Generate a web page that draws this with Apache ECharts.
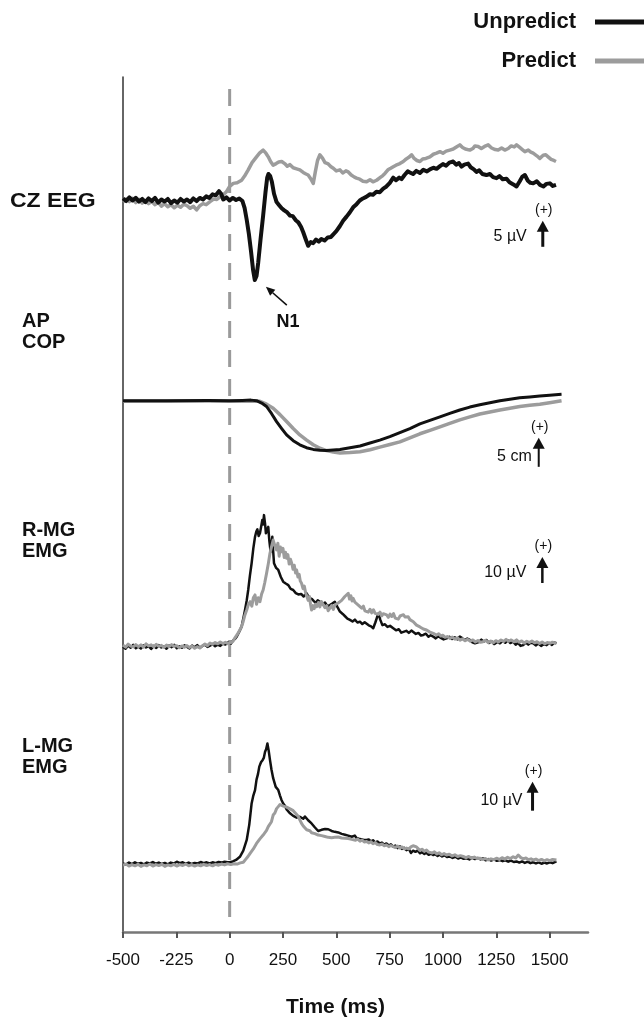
<!DOCTYPE html>
<html>
<head>
<meta charset="UTF-8">
<title>Unpredict vs Predict</title>
<script src="https://cdn.jsdelivr.net/npm/echarts@6/dist/echarts.min.js"></script>
<style>html,body{margin:0;background:#fff}</style>
</head>
<body>
<div id="main" style="width:644px;height:1019px;"></div>
<script>
var FONT = '"Liberation Sans", Arial, Helvetica, sans-serif';
var BLACK = '#111';
var GRAY = '#9c9c9c';

// time axis ticks (the original figure labels -250 as "-225")
var tickValues = [-500, -250, 0, 250, 500, 750, 1000, 1250, 1500];
var tickLabels = ['-500', '-225', '0', '250', '500', '750', '1000', '1250', '1500'];

// CZ EEG, [ms, uV]
var eegUnpredict = [[-500,0.3],[-485,-0.2],[-470,0.5],[-455,-0.1],[-440,0.4],[-425,-0.3],[-410,0.2],[-395,-0.4],[-380,0.3],[-365,-0.2],[-350,0.4],[-335,-0.5],[-320,0.1],[-305,-0.3],[-290,0.2],[-275,-0.6],[-260,-0.1],[-245,-0.5],[-230,0.2],[-215,-0.3],[-200,0.1],[-185,-0.4],[-170,0.3],[-155,-0.2],[-140,0.4],[-125,0.1],[-110,0.7],[-95,0.4],[-80,1.1],[-65,0.9],[-50,1.7],[-40,1.2],[-30,0.1],[-15,0.5],[0,-0.1],[15,0.4],[30,0.0],[45,0.3],[60,-0.2],[70,-1.5],[80,-3.8],[90,-6.5],[100,-9.8],[110,-13.5],[118,-15.4],[126,-14.6],[134,-12.0],[145,-7.5],[157,-3.0],[168,1.5],[176,4.3],[182,5.0],[190,4.6],[198,3.5],[208,1.2],[220,-0.4],[232,-1.0],[244,-1.6],[256,-2.0],[270,-2.4],[283,-3.0],[296,-3.1],[310,-3.9],[322,-4.3],[335,-5.2],[345,-6.2],[357,-7.6],[368,-8.8],[380,-8.1],[392,-8.3],[405,-7.6],[418,-8.0],[430,-7.5],[445,-7.8],[460,-7.2],[475,-7.1],[486,-6.6],[500,-6.0],[517,-5.0],[532,-4.0],[548,-3.2],[563,-2.4],[579,-1.4],[595,-0.8],[610,-0.1],[625,0.3],[640,0.6],[658,1.1],[672,1.0],[688,1.6],[704,1.5],[720,2.2],[735,2.6],[751,3.3],[767,4.3],[780,3.8],[795,4.3],[806,4.0],[820,4.8],[835,5.5],[845,5.3],[860,5.0],[875,5.6],[892,5.2],[908,5.8],[925,5.5],[939,5.9],[955,6.2],[970,6.0],[986,6.5],[1000,6.9],[1015,6.6],[1030,7.2],[1048,7.4],[1062,6.8],[1075,7.1],[1087,6.4],[1100,6.8],[1118,7.0],[1130,6.3],[1145,5.9],[1157,5.4],[1170,5.7],[1185,5.0],[1204,4.8],[1220,5.0],[1235,4.4],[1251,4.2],[1265,4.6],[1280,4.0],[1298,4.1],[1312,3.4],[1330,3.0],[1345,2.6],[1360,3.6],[1372,4.5],[1384,4.8],[1398,3.7],[1410,3.3],[1423,3.2],[1440,3.6],[1455,2.9],[1471,2.6],[1485,3.1],[1501,3.2],[1515,2.7],[1530,2.9]];
var eegPredict = [[-500,-0.4],[-485,0.2],[-470,-0.3],[-455,0.3],[-440,-0.5],[-425,0.1],[-410,-0.6],[-395,-0.2],[-380,-0.7],[-365,-0.3],[-350,-0.9],[-335,-0.4],[-320,-1.2],[-305,-0.7],[-290,-1.3],[-275,-0.9],[-260,-1.5],[-245,-1.0],[-230,-1.4],[-215,-0.8],[-200,-1.1],[-185,-1.6],[-170,-1.2],[-155,-1.9],[-140,-1.1],[-125,-0.7],[-110,-0.9],[-92,-0.3],[-75,0.2],[-60,0.1],[-45,0.6],[-30,1.0],[-15,1.6],[0,2.6],[17,3.2],[35,3.3],[56,3.8],[70,4.6],[87,5.8],[105,7.2],[126,8.3],[140,9.0],[157,9.6],[170,9.0],[181,8.3],[192,7.4],[204,6.7],[218,7.0],[230,7.3],[244,7.4],[258,7.0],[270,6.5],[283,6.8],[298,6.2],[314,6.0],[329,5.8],[345,5.3],[358,5.0],[368,4.8],[380,4.1],[392,3.2],[402,5.5],[412,7.6],[423,8.7],[436,8.0],[447,7.2],[460,7.0],[475,6.4],[486,6.1],[500,5.6],[517,5.8],[530,5.2],[545,5.6],[556,5.4],[570,4.8],[585,4.4],[595,4.2],[610,4.0],[625,3.6],[642,3.5],[658,3.9],[672,3.5],[689,3.8],[705,4.3],[718,4.7],[728,5.1],[742,5.8],[755,6.1],[767,6.4],[780,6.7],[798,7.0],[814,7.4],[828,7.9],[840,8.2],[853,8.7],[865,8.0],[878,7.6],[892,7.4],[905,7.9],[920,8.0],[939,8.3],[955,8.8],[970,9.0],[986,9.3],[1000,9.0],[1015,9.4],[1032,9.6],[1048,9.8],[1063,10.2],[1079,10.6],[1092,10.1],[1105,9.8],[1126,9.6],[1140,9.9],[1150,10.4],[1165,10.3],[1180,9.9],[1195,10.3],[1212,10.6],[1228,10.0],[1245,9.7],[1259,9.6],[1275,10.0],[1290,9.6],[1306,9.9],[1320,10.4],[1334,10.2],[1345,10.6],[1360,10.1],[1372,9.7],[1384,9.3],[1400,9.6],[1412,9.2],[1423,9.0],[1440,8.5],[1454,8.0],[1470,8.6],[1482,8.7],[1493,8.3],[1507,7.8],[1520,7.6],[1530,7.4]];

// AP COP, [ms, cm]
var copUnpredict = [[-500,0],[-300,0],[-100,0.05],[0,0],[60,0.05],[100,0.1],[126,0],[150,-0.4],[173,-1.0],[196,-2.2],[220,-3.6],[244,-4.8],[267,-5.9],[298,-6.9],[329,-7.6],[360,-8.1],[392,-8.4],[423,-8.55],[454,-8.6],[486,-8.5],[517,-8.4],[564,-8.1],[611,-7.8],[658,-7.3],[704,-6.8],[751,-6.2],[798,-5.5],[845,-4.8],[892,-4.0],[939,-3.4],[986,-2.8],[1032,-2.2],[1079,-1.6],[1126,-1.1],[1173,-0.7],[1220,-0.35],[1267,0],[1314,0.25],[1360,0.5],[1407,0.65],[1454,0.8],[1500,0.95],[1556,1.1]];
var copPredict = [[-500,-0.1],[-300,-0.1],[-100,-0.05],[0,-0.1],[100,-0.05],[142,-0.1],[173,-0.6],[204,-1.3],[236,-2.4],[267,-3.6],[298,-4.8],[329,-5.9],[361,-6.8],[392,-7.6],[423,-8.2],[454,-8.6],[486,-8.85],[517,-9.0],[564,-8.95],[611,-8.8],[658,-8.45],[704,-8.0],[751,-7.55],[798,-7.1],[845,-6.4],[892,-5.7],[939,-5.1],[986,-4.5],[1032,-3.9],[1079,-3.3],[1126,-2.8],[1173,-2.3],[1220,-1.95],[1267,-1.6],[1314,-1.3],[1360,-1.0],[1407,-0.8],[1454,-0.6],[1500,-0.35],[1556,0]];

// R-MG EMG, [ms, uV]
var rmgUnpredict = [[-500,3.2],[-488,2.4],[-476,3.6],[-464,2.8],[-452,3.9],[-440,2.6],[-428,3.3],[-416,2.5],[-404,3.7],[-392,2.9],[-380,3.4],[-368,2.3],[-356,3.5],[-344,2.7],[-332,3.8],[-320,2.9],[-308,3.3],[-296,2.4],[-284,3.6],[-272,3.0],[-260,3.9],[-248,2.6],[-236,3.4],[-224,2.8],[-212,3.7],[-200,3.1],[-188,2.5],[-176,3.6],[-164,3.0],[-152,3.8],[-140,2.8],[-128,3.5],[-116,4.0],[-104,3.1],[-92,3.6],[-80,4.2],[-68,3.4],[-56,4.0],[-44,3.5],[-32,4.4],[-20,4.0],[-8,4.8],[5,4.3],[15,5.5],[25,6.2],[33,7.0],[45,9.0],[56,10.9],[64,14.0],[72,17.3],[80,21.0],[87,25.0],[95,30.5],[103,35.3],[111,41.0],[119,45.5],[125,47.5],[130,48.3],[136,45.8],[142,46.8],[148,49.5],[153,51.9],[157,50.2],[161,53.8],[166,50.5],[170,46.8],[176,48.0],[181,49.3],[186,44.0],[192,39.7],[197,43.5],[200,45.5],[204,40.0],[208,35.3],[218,33.5],[228,32.7],[240,30.0],[251,28.2],[263,27.5],[275,26.9],[286,25.4],[298,25.0],[310,23.8],[322,23.3],[335,23.5],[347,22.5],[361,23.7],[372,22.0],[385,21.6],[392,21.2],[403,20.0],[413,21.0],[423,20.5],[435,19.5],[447,20.2],[458,18.8],[470,19.2],[481,19.8],[493,20.5],[505,18.5],[517,16.7],[530,15.8],[541,14.9],[552,14.0],[564,13.5],[576,12.9],[587,13.6],[599,12.5],[611,12.8],[622,11.9],[633,12.6],[642,12.2],[652,11.4],[663,11.0],[673,10.3],[683,12.5],[692,14.8],[698,16.0],[706,13.6],[716,11.5],[728,11.8],[740,10.8],[752,11.2],[767,10.3],[780,9.5],[793,9.9],[805,8.6],[814,8.3],[828,9.3],[840,8.5],[852,9.4],[861,9.0],[873,8.1],[885,8.5],[897,7.5],[908,7.7],[920,8.2],[932,7.0],[943,7.6],[954,7.1],[966,6.4],[978,7.2],[990,6.6],[1003,6.0],[1017,6.4],[1030,7.0],[1043,6.2],[1055,6.8],[1067,6.0],[1079,7.1],[1090,6.5],[1102,5.7],[1114,6.3],[1126,5.8],[1138,4.9],[1150,4.5],[1157,3.8],[1168,5.0],[1180,5.9],[1192,5.2],[1204,5.8],[1216,4.6],[1228,5.3],[1240,4.2],[1255,5.0],[1267,4.5],[1280,5.4],[1292,4.7],[1304,5.6],[1316,4.6],[1329,5.1],[1341,4.0],[1352,4.6],[1364,3.5],[1376,3.8],[1388,4.8],[1400,4.0],[1411,4.7],[1423,4.5],[1435,3.7],[1447,4.4],[1460,3.5],[1473,4.2],[1486,3.8],[1499,4.6],[1511,3.9],[1522,4.8],[1532,4.5]];
var rmgPredict = [[-500,3.8],[-488,3.0],[-476,4.2],[-464,3.4],[-452,3.1],[-440,4.0],[-428,3.2],[-416,3.9],[-404,3.0],[-392,4.3],[-380,3.5],[-368,3.9],[-356,3.1],[-344,4.1],[-332,3.3],[-320,3.7],[-308,2.9],[-296,3.8],[-284,3.2],[-272,4.0],[-260,3.3],[-248,3.6],[-236,2.8],[-224,3.5],[-212,3.0],[-200,3.6],[-188,2.9],[-176,3.4],[-164,2.6],[-152,3.2],[-140,2.7],[-128,3.5],[-116,4.2],[-104,3.6],[-92,4.6],[-80,4.1],[-68,4.8],[-56,4.3],[-44,5.0],[-32,4.4],[-20,4.9],[-8,4.3],[5,4.8],[15,5.2],[23,6.4],[35,7.8],[47,9.5],[56,10.9],[64,13.0],[72,15.5],[80,17.3],[88,19.5],[96,20.5],[104,18.8],[111,22.0],[119,23.1],[126,19.5],[134,22.0],[142,20.5],[150,23.5],[157,25.0],[165,28.0],[173,31.4],[181,35.0],[189,39.1],[196,41.5],[204,44.2],[212,42.0],[220,40.4],[226,43.0],[232,38.0],[238,41.5],[244,39.7],[250,41.0],[256,37.5],[262,39.5],[267,37.2],[273,38.6],[279,35.0],[285,36.8],[291,35.3],[297,33.0],[303,34.5],[309,31.5],[314,32.7],[320,30.0],[326,31.0],[331,28.5],[337,27.6],[344,25.5],[350,26.5],[356,24.0],[361,23.7],[368,21.0],[374,22.5],[379,19.5],[384,17.3],[390,19.0],[396,17.8],[402,19.5],[408,18.6],[416,20.2],[423,18.5],[430,20.6],[439,19.9],[447,18.2],[455,19.0],[462,17.0],[470,17.3],[478,19.0],[486,17.5],[494,19.3],[501,18.6],[509,20.0],[517,19.4],[525,21.0],[533,21.2],[540,22.5],[548,23.0],[556,23.7],[562,21.5],[568,22.8],[574,20.8],[579,21.8],[587,20.3],[595,21.0],[603,19.2],[611,19.2],[619,18.0],[627,18.8],[634,17.0],[642,17.3],[650,16.5],[658,17.6],[666,16.2],[674,17.4],[682,16.0],[689,16.7],[697,15.6],[705,16.5],[713,15.0],[720,15.9],[728,16.0],[736,15.4],[744,14.5],[752,15.7],[760,14.8],[768,15.9],[776,14.2],[783,14.7],[791,13.8],[799,15.0],[807,14.3],[815,15.5],[822,14.6],[830,15.2],[837,14.7],[845,13.6],[853,14.2],[861,12.8],[868,13.2],[876,11.5],[884,12.0],[892,10.8],[900,11.3],[908,10.0],[915,10.5],[923,9.6],[931,9.9],[939,8.8],[947,9.2],[955,8.3],[962,8.6],[970,7.7],[980,8.2],[990,7.3],[1000,7.6],[1010,6.8],[1020,7.1],[1032,6.4],[1044,6.9],[1056,6.1],[1068,6.6],[1080,5.7],[1092,6.2],[1104,5.5],[1116,6.0],[1128,5.3],[1140,5.8],[1152,5.0],[1164,5.6],[1176,4.9],[1188,5.1],[1200,5.6],[1212,4.8],[1224,5.4],[1236,4.7],[1248,5.5],[1260,5.0],[1272,5.8],[1284,5.2],[1296,6.0],[1308,5.3],[1320,5.8],[1333,5.1],[1345,5.8],[1357,4.9],[1369,5.4],[1381,4.6],[1393,5.3],[1405,4.8],[1417,5.4],[1429,4.7],[1441,5.1],[1453,4.4],[1465,5.0],[1477,4.3],[1489,4.8],[1501,4.5],[1513,4.9],[1522,4.2],[1532,4.5]];

// L-MG EMG, [ms, uV]
var lmgUnpredict = [[-500,2.6],[-486,2.2],[-472,2.9],[-458,2.4],[-444,3.0],[-430,2.5],[-416,2.8],[-402,2.3],[-388,2.9],[-374,2.6],[-360,3.1],[-346,2.5],[-332,2.9],[-318,2.4],[-304,2.8],[-290,2.3],[-276,2.9],[-262,2.6],[-248,3.2],[-234,2.7],[-220,3.0],[-206,2.5],[-192,2.9],[-178,2.4],[-164,2.8],[-150,2.6],[-136,3.1],[-122,2.7],[-108,3.0],[-94,2.6],[-80,3.0],[-66,2.7],[-52,3.1],[-38,2.9],[-24,3.2],[-10,3.0],[1,3.0],[15,3.3],[30,3.8],[48,4.9],[64,7.0],[80,10.7],[92,16.0],[103,23.3],[111,26.0],[119,27.9],[126,31.5],[133,33.5],[139,36.0],[147,37.5],[155,38.3],[160,39.0],[166,41.1],[171,42.0],[177,44.0],[183,41.5],[189,38.3],[196,35.0],[204,32.0],[210,31.5],[216,29.0],[222,28.5],[228,27.9],[236,26.0],[243,24.5],[251,23.3],[259,22.5],[267,21.2],[275,20.6],[283,19.9],[290,20.3],[298,19.0],[306,19.3],[314,18.4],[322,18.9],[329,18.7],[337,19.0],[345,18.0],[353,18.8],[361,18.7],[368,17.5],[376,17.0],[384,16.4],[392,15.8],[400,15.0],[408,14.5],[415,13.8],[423,13.6],[431,14.2],[439,14.8],[447,14.5],[454,15.0],[462,14.4],[470,14.7],[478,13.8],[486,14.3],[493,13.5],[501,13.9],[509,13.3],[517,13.6],[525,12.8],[533,13.3],[541,12.5],[548,12.9],[556,12.2],[564,12.6],[572,11.8],[579,11.8],[587,12.2],[595,11.4],[603,11.9],[611,11.0],[619,11.5],[627,10.8],[634,11.2],[642,10.7],[652,10.9],[662,10.2],[672,10.6],[683,9.8],[693,10.2],[704,9.5],[714,9.8],[725,9.1],[735,9.5],[746,8.8],[756,9.2],[767,8.4],[777,8.8],[788,7.9],[798,8.5],[808,7.6],[819,8.0],[829,7.2],[840,7.6],[850,6.2],[860,7.0],[871,6.6],[881,7.1],[892,6.1],[902,6.5],[913,5.9],[923,6.3],[933,5.6],[944,6.0],[954,5.5],[964,5.8],[975,5.2],[985,5.6],[996,5.0],[1007,5.4],[1019,4.8],[1032,5.0],[1045,4.5],[1058,4.9],[1071,4.3],[1084,4.7],[1097,4.2],[1111,4.4],[1124,4.0],[1137,4.6],[1150,4.1],[1163,4.5],[1176,4.0],[1188,4.4],[1200,3.7],[1213,4.1],[1226,3.6],[1240,4.0],[1253,3.5],[1267,3.8],[1280,3.4],[1293,3.7],[1306,3.2],[1319,3.6],[1332,3.1],[1345,3.3],[1358,2.9],[1371,3.3],[1384,2.8],[1397,3.2],[1410,2.7],[1423,3.0],[1436,2.6],[1449,3.0],[1462,2.5],[1475,2.9],[1488,2.6],[1501,3.0],[1514,2.7],[1532,3.3]];
var lmgPredict = [[-500,2.0],[-486,2.4],[-472,1.7],[-458,2.2],[-444,1.8],[-430,2.3],[-416,1.6],[-402,2.1],[-388,1.8],[-374,2.4],[-360,1.7],[-346,2.2],[-332,1.9],[-318,2.3],[-304,1.6],[-290,2.1],[-276,1.8],[-262,2.3],[-248,1.7],[-234,2.2],[-220,1.9],[-206,2.4],[-192,1.8],[-178,2.2],[-164,1.7],[-150,2.1],[-136,1.8],[-122,2.3],[-108,1.9],[-94,2.2],[-80,1.8],[-66,2.3],[-52,2.0],[-38,2.4],[-24,2.1],[-10,2.5],[5,2.2],[20,2.5],[35,2.4],[50,2.8],[64,3.0],[75,4.0],[86,5.0],[96,6.1],[104,6.0],[111,7.6],[118,8.0],[126,9.5],[133,9.0],[141,11.0],[149,10.6],[157,12.4],[165,12.0],[173,14.0],[181,15.3],[189,15.0],[196,17.0],[204,19.3],[212,20.0],[220,21.5],[228,22.2],[236,22.9],[244,23.3],[252,22.4],[259,23.0],[267,22.0],[275,22.2],[283,21.4],[291,21.8],[298,20.8],[306,20.3],[314,19.5],[322,18.8],[329,17.6],[337,16.4],[345,15.5],[353,14.9],[361,14.2],[368,13.6],[376,13.9],[384,13.2],[392,13.5],[400,12.9],[408,13.0],[415,12.4],[423,12.9],[431,12.2],[439,12.5],[447,11.9],[454,12.3],[462,11.6],[470,12.1],[478,11.5],[486,12.0],[493,11.6],[501,12.2],[509,11.7],[517,11.9],[525,11.4],[533,12.0],[541,11.3],[548,11.8],[556,11.2],[564,11.6],[572,10.9],[579,11.3],[590,10.6],[600,11.0],[611,10.3],[621,10.7],[631,10.0],[642,10.2],[652,9.7],[662,10.1],[672,9.4],[683,9.8],[693,9.1],[704,9.0],[714,9.3],[725,8.7],[735,9.0],[746,8.4],[756,8.8],[767,8.4],[777,8.1],[788,8.6],[798,7.9],[808,8.3],[819,7.6],[829,7.9],[840,7.6],[850,8.3],[860,8.7],[868,9.0],[876,8.3],[884,7.7],[892,7.1],[902,7.5],[913,6.8],[923,7.2],[933,6.5],[939,6.7],[950,6.2],[960,6.6],[971,5.9],[982,6.3],[994,5.6],[1005,6.0],[1017,5.5],[1030,5.8],[1043,5.2],[1056,5.6],[1069,5.0],[1082,5.3],[1095,5.0],[1108,4.6],[1121,5.0],[1134,4.4],[1147,4.8],[1160,4.3],[1173,4.4],[1186,4.0],[1199,4.3],[1212,3.8],[1225,4.2],[1238,3.9],[1251,4.4],[1264,4.0],[1277,4.6],[1290,4.1],[1303,4.7],[1316,4.3],[1329,4.9],[1341,4.5],[1353,5.5],[1365,4.6],[1377,4.2],[1389,4.5],[1401,3.9],[1413,4.2],[1423,3.8],[1436,4.1],[1449,3.6],[1462,4.0],[1475,3.5],[1488,3.9],[1501,3.6],[1514,4.0],[1532,3.8]];

// stimulus onset marker (t = 0), drawn over most of the frame height
var stimulusLine = [[0, 98.6], [0, 1.75]];

var chart = echarts.init(document.getElementById('main'));

var X_MIN = -500, X_MAX = 1680;
var LEFT = 123, WIDTH = 465;

// panel layout: pixel box + value range of each trace pair
var panels = [
    {labels: ['CZ EEG'], labelY: 201, labelX: 10, stretch: 1.15, u: eegUnpredict, p: eegPredict, min: -20, max: 15, top: 122, height: 182, uw: 4, pw: 3.5, grayOnTop: false},
    {labels: ['AP', 'COP'], labelY: 321, labelX: 22, stretch: 1, u: copUnpredict, p: copPredict, min: -12, max: 3, top: 383.3, height: 87, uw: 3, pw: 3.5, grayOnTop: false},
    {labels: ['R-MG', 'EMG'], labelY: 530, labelX: 22, stretch: 1, u: rmgUnpredict, p: rmgPredict, min: 0, max: 60, top: 499, height: 156, uw: 2.5, pw: 3, grayOnTop: true},
    {labels: ['L-MG', 'EMG'], labelY: 746, labelX: 22, stretch: 1, u: lmgUnpredict, p: lmgPredict, min: 0, max: 50, top: 726, height: 145, uw: 2.5, pw: 3, grayOnTop: true}
];

// scale bars: [ms, start value, size]
var scaleBars = [
    {grid: 1, t: 1468, from: -9, size: 5, text: '5 µV', dx: 16, lw: 3},
    {grid: 2, t: 1449, from: -11.4, size: 5, text: '5 cm', dx: 7, lw: 2},
    {grid: 3, t: 1466, from: 27.7, size: 10, text: '10 µV', dx: 16, lw: 2.5},
    {grid: 4, t: 1420, from: 20.8, size: 10, text: '10 µV', dx: 10, lw: 3}
];

var grids = [{left: LEFT, top: 77, width: WIDTH, height: 855, outerBoundsMode: 'none', containLabel: false}];
var xAxes = [{
    type: 'value', gridIndex: 0, min: X_MIN, max: X_MAX,
    axisLine: {onZero: false, lineStyle: {color: '#777', width: 2.5}},
    axisTick: {customValues: tickValues, length: 6, lineStyle: {color: '#555', width: 2}},
    axisLabel: {
        customValues: tickValues, margin: 20, fontSize: 17, color: '#111', fontFamily: FONT,
        formatter: function (v) { return tickLabels[tickValues.indexOf(v)]; }
    },
    splitLine: {show: false},
    name: 'Time (ms)', nameLocation: 'middle', nameGap: 65,
    nameTextStyle: {fontFamily: FONT, fontWeight: 'bold', fontSize: 21, color: '#111', padding: [0, 40, 0, 0]}
}];
var yAxes = [{
    type: 'value', gridIndex: 0, min: 0, max: 100,
    axisLine: {show: true, onZero: false, lineStyle: {color: '#333', width: 1.5}},
    axisTick: {show: false}, axisLabel: {show: false}, splitLine: {show: false}
}];

var series = [{
    name: 'stimulus', type: 'line', xAxisIndex: 0, yAxisIndex: 0, data: stimulusLine, z: 1,
    showSymbol: false, symbol: 'none', silent: true,
    lineStyle: {type: [17, 12], color: '#9a9a9a', width: 3}
}];

function trace(name, data, idx, color, width) {
    return {
        name: name, type: 'line', data: data, xAxisIndex: idx, yAxisIndex: idx,
        showSymbol: false, symbol: 'none', clip: false, color: color, z: 3,
        lineStyle: {color: color, width: width, join: 'round'}
    };
}

panels.forEach(function (p, i) {
    var idx = i + 1;
    grids.push({left: LEFT, width: WIDTH, top: p.top, height: p.height, outerBoundsMode: 'none', containLabel: false});
    xAxes.push({type: 'value', gridIndex: idx, min: X_MIN, max: X_MAX, show: false});
    yAxes.push({type: 'value', gridIndex: idx, min: p.min, max: p.max, show: false});
    var u = trace('Unpredict', p.u, idx, BLACK, p.uw);
    var g = trace('Predict', p.p, idx, GRAY, p.pw);
    if (p.grayOnTop) series.push(u, g); else series.push(g, u);
});

var legendText = {fontFamily: FONT, fontWeight: 'bold', fontSize: 22, color: '#111', padding: [0, 14, 0, 0]};

chart.setOption({
    animation: false,
    textStyle: {fontFamily: FONT},
    legend: [
        {data: [{name: 'Unpredict', icon: 'rect'}], align: 'right', right: -6, top: 6, itemWidth: 50, itemHeight: 5, selectedMode: false, textStyle: legendText},
        {data: [{name: 'Predict', icon: 'rect'}], align: 'right', right: -6, top: 45, itemWidth: 50, itemHeight: 5, selectedMode: false, textStyle: legendText}
    ],
    grid: grids,
    xAxis: xAxes,
    yAxis: yAxes,
    series: series
});

// annotations: panel names, scale bars, N1 marker
var graphics = [];
panels.forEach(function (p) {
    p.labels.forEach(function (txt, k) {
        graphics.push({type: 'text', x: p.labelX, y: p.labelY + k * 21, scaleX: p.stretch, style: {
            text: txt, fontFamily: FONT, fontWeight: 'bold', fontSize: 20, fill: '#111', align: 'left', verticalAlign: 'middle'}});
    });
});

scaleBars.forEach(function (b) {
    var p0 = chart.convertToPixel({gridIndex: b.grid}, [b.t, b.from]);
    var p1 = chart.convertToPixel({gridIndex: b.grid}, [b.t, b.from + b.size]);
    var x = p0[0];
    graphics.push({type: 'line', shape: {x1: x, y1: p0[1], x2: x, y2: p1[1] + 8}, style: {stroke: '#111', lineWidth: b.lw}});
    graphics.push({type: 'polygon', shape: {points: [[x, p1[1]], [x - 6, p1[1] + 11], [x + 6, p1[1] + 11]]}, style: {fill: '#111'}});
    graphics.push({type: 'text', x: x - b.dx, y: p0[1] - 10, style: {
        text: b.text, fontFamily: FONT, fontSize: 16, fill: '#111', align: 'right', verticalAlign: 'middle'}});
    graphics.push({type: 'text', x: x + 1, y: p1[1] - 11, style: {
        text: '(+)', fontFamily: FONT, fontSize: 14, fill: '#111', align: 'center', verticalAlign: 'middle'}});
});

var tip = chart.convertToPixel({gridIndex: 1}, [170, -16.7]);
var tail = chart.convertToPixel({gridIndex: 1}, [268, -20.2]);
var dx = tip[0] - tail[0], dy = tip[1] - tail[1];
var len = Math.sqrt(dx * dx + dy * dy);
var ux = dx / len, uy = dy / len;
var bx = tip[0] - ux * 9, by = tip[1] - uy * 9;
graphics.push({type: 'line', shape: {x1: tail[0], y1: tail[1], x2: bx, y2: by}, style: {stroke: '#111', lineWidth: 1.6}});
graphics.push({type: 'polygon', shape: {points: [[tip[0], tip[1]], [bx - uy * 4, by + ux * 4], [bx + uy * 4, by - ux * 4]]}, style: {fill: '#111'}});
var n1 = chart.convertToPixel({gridIndex: 1}, [273, -23.5]);
graphics.push({type: 'text', x: n1[0], y: n1[1], style: {
    text: 'N1', fontFamily: FONT, fontWeight: 'bold', fontSize: 18, fill: '#111', align: 'center', verticalAlign: 'middle'}});

chart.setOption({graphic: graphics});
</script>
</body>
</html>
